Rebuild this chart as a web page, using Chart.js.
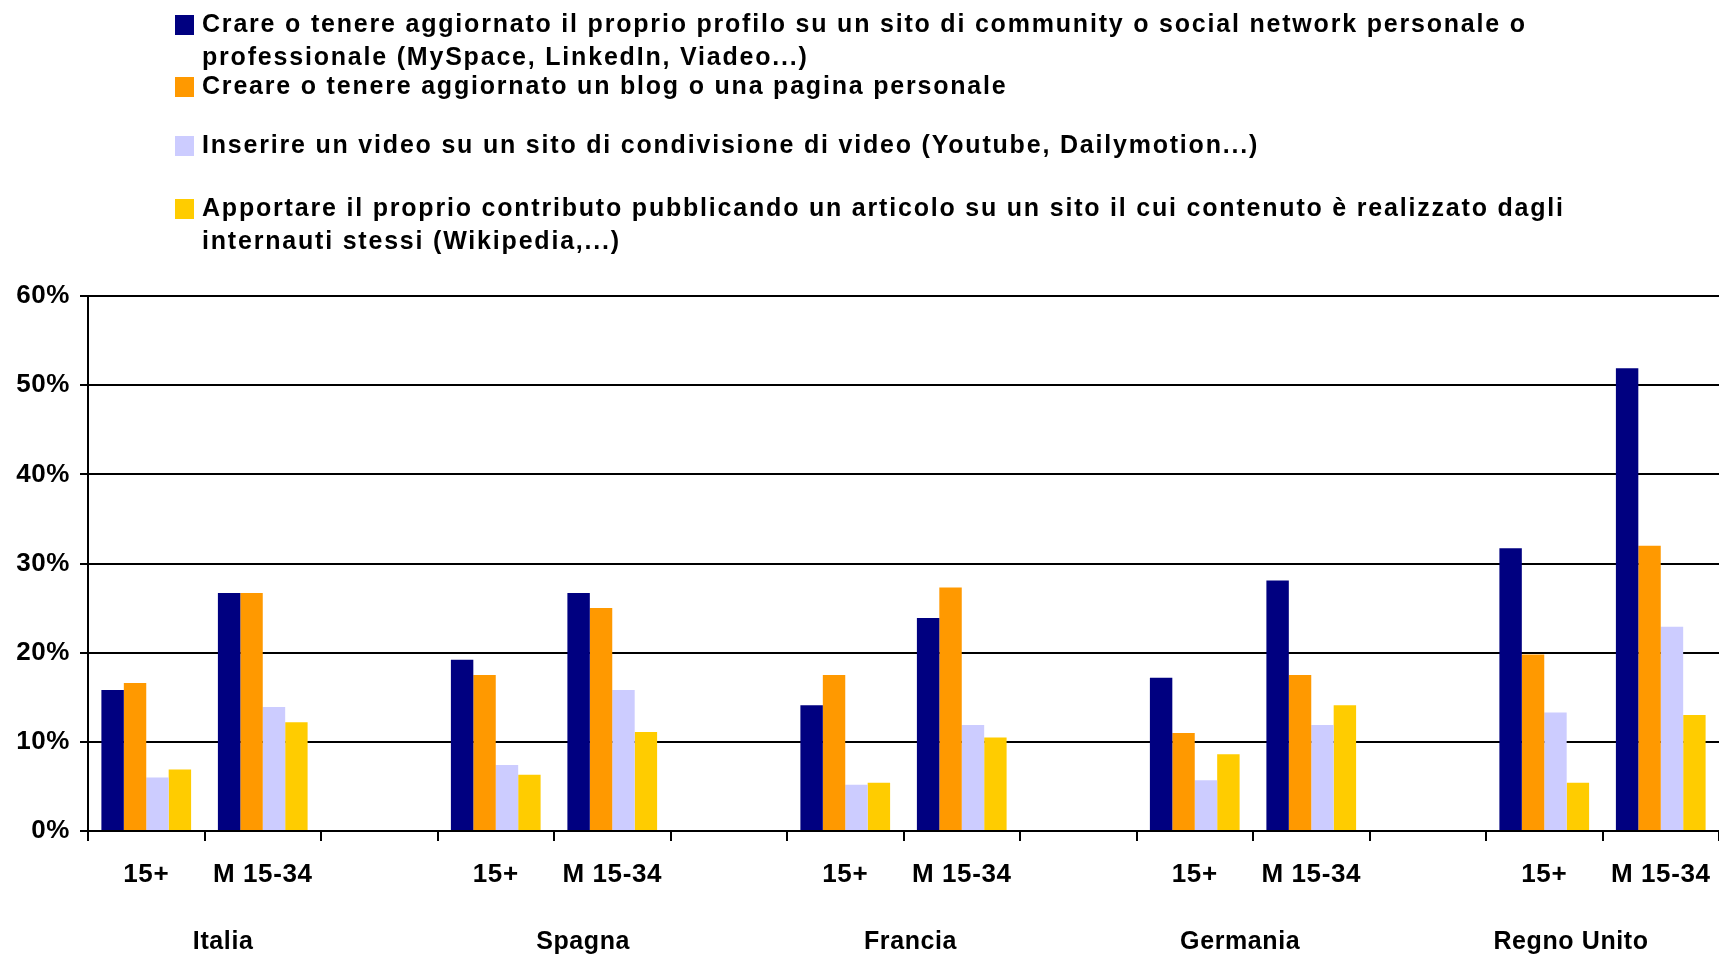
<!DOCTYPE html>
<html>
<head>
<meta charset="utf-8">
<script src="https://cdn.jsdelivr.net/npm/chart.js@4/dist/chart.umd.min.js"></script>
<style>
  html, body { margin: 0; background: #fff; }
  #wrap { width: 1719px; height: 957px; position: relative; }
</style>
</head>
<body>
<div id="wrap"><canvas id="chart"></canvas></div>
<script>
// categories: two age groups per country, with an empty slot between countries
const countries = ['Italia', 'Spagna', 'Francia', 'Germania', 'Regno Unito'];
const categories = [
  '15+', 'M 15-34', '',
  '15+', 'M 15-34', '',
  '15+', 'M 15-34', '',
  '15+', 'M 15-34', '',
  '15+', 'M 15-34',
];

// values in %
const profilo = [15.8, 26.7, null, 19.2, 26.7, null, 14.1, 23.9, null, 17.2, 28.1, null, 31.7, 51.9];
const blog    = [16.6, 26.7, null, 17.5, 25.0, null, 17.5, 27.3, null, 11.0, 17.5, null, 19.8, 32.0];
const video   = [6.0, 13.9, null, 7.4, 15.8, null, 5.2, 11.9, null, 5.7, 11.9, null, 13.3, 22.9];
const wiki    = [6.9, 12.2, null, 6.3, 11.1, null, 5.4, 10.5, null, 8.6, 14.1, null, 5.4, 13.0];

const yTicks = [0, 10, 20, 30, 40, 50, 60];

const seriesLabels = [
  ['Crare o tenere aggiornato il proprio profilo su un sito di community o social network personale o',
   'professionale (MySpace, LinkedIn, Viadeo...)'],
  ['Creare o tenere aggiornato un blog o una pagina personale'],
  ['Inserire un video su un sito di condivisione di video (Youtube, Dailymotion...)'],
  ['Apportare il proprio contributo pubblicando un articolo su un sito il cui contenuto è realizzato dagli',
   'internauti stessi (Wikipedia,...)'],
];
const colors = ['#000080', '#FF9900', '#CCCCFF', '#FFCC00'];

const FONT = '"Liberation Sans", Arial, sans-serif';
const SPACING = '0.6px';

// legend rows (first line centre y), country names shifted a bit like the original
const legendRows = [25, 87, 146, 209];
const legendLineGap = 33;
const countryNudge = [0.16, 0.25, 0.06, -0.11, -0.27];

const decor = {
  id: 'decor',
  beforeLayout(chart) { chart.ctx.letterSpacing = SPACING; },
  beforeDraw(chart) { chart.ctx.letterSpacing = SPACING; },
  afterDraw(chart) {
    const { ctx } = chart;
    const x = chart.scales.x;
    const step = x.getPixelForValue(1) - x.getPixelForValue(0);
    ctx.save();
    ctx.fillStyle = '#000';
    ctx.textBaseline = 'middle';

    ctx.font = 'bold 25px ' + FONT;
    ctx.letterSpacing = SPACING;
    ctx.textAlign = 'center';
    countries.forEach((name, i) => {
      const cx = (x.getPixelForValue(i * 3) + x.getPixelForValue(i * 3 + 1)) / 2;
      ctx.fillText(name, cx + countryNudge[i] * step, 942);
    });

    // legend
    ctx.textAlign = 'left';
    ctx.font = 'bold 25px ' + FONT;
    ctx.letterSpacing = '0px';
    const w0 = ctx.measureText(seriesLabels[0][0]).width;
    const n0 = seriesLabels[0][0].length;
    ctx.letterSpacing = ((1325 - w0) / n0).toFixed(2) + 'px';
    seriesLabels.forEach((lines, i) => {
      const y0 = legendRows[i];
      ctx.fillStyle = colors[i];
      ctx.fillRect(175, y0 - 10, 19, 20);
      ctx.fillStyle = '#000';
      lines.forEach((line, j) => {
        ctx.fillText(line, 202, y0 + j * legendLineGap);
      });
    });
    ctx.restore();
  },
};

const datasets = [profilo, blog, video, wiki].map((data, i) => ({
  label: seriesLabels[i].join(' '),
  data,
  backgroundColor: colors[i],
  borderWidth: 0,
  categoryPercentage: 0.77,
  barPercentage: 1.0,
}));

new Chart(document.getElementById('chart'), {
  type: 'bar',
  data: { labels: categories, datasets },
  plugins: [decor],
  options: {
    responsive: true,
    maintainAspectRatio: false,
    animation: false,
    events: [],
    layout: { padding: { top: 296, left: 0, right: 0, bottom: 0 } },
    plugins: { legend: { display: false }, tooltip: { enabled: false } },
    scales: {
      x: {
        grid: {
          offset: true,
          drawOnChartArea: false,
          color: '#000',
          lineWidth: 2,
          tickLength: 10,
        },
        border: { color: '#000', width: 2 },
        ticks: {
          color: '#000',
          font: { family: FONT, size: 26, weight: 'bold' },
          padding: 18,
          maxRotation: 0,
          autoSkip: false,
        },
        afterFit(scale) {
          scale.height = 126;
          scale.paddingLeft = 0;
          scale.paddingRight = 0;
        },
      },
      y: {
        min: yTicks[0],
        max: yTicks[yTicks.length - 1],
        afterBuildTicks(scale) { scale.ticks = yTicks.map((v) => ({ value: v })); },
        grid: { color: '#000', lineWidth: 2, tickLength: 8 },
        border: { color: '#000', width: 2 },
        ticks: {
          color: '#000',
          font: { family: FONT, size: 26, weight: 'bold' },
          padding: 10,
          callback: (v) => v + '%',
        },
        afterFit(scale) {
          scale.width = 88;
          scale.paddingTop = 0;
          scale.paddingBottom = 0;
        },
      },
    },
  },
});
</script>
</body>
</html>
